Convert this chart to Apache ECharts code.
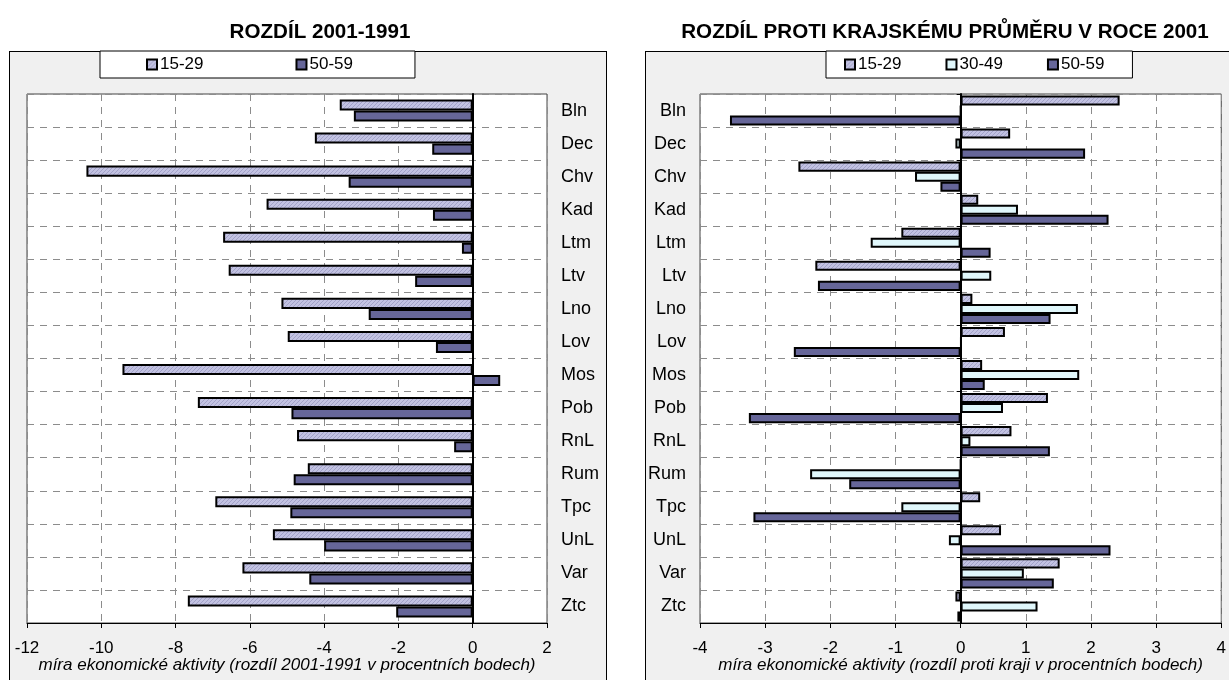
<!DOCTYPE html>
<html>
<head>
<meta charset="utf-8">
<title>Míra ekonomické aktivity</title>
<script src="https://cdn.jsdelivr.net/npm/echarts@6/dist/echarts.min.js"></script>
<style>
html, body { margin: 0; padding: 0; background: #fff; }
#wrap { position: relative; width: 1229px; height: 680px; overflow: hidden; }
.panel { position: absolute; background: #f0f0f0; border: 1px solid #000; box-sizing: border-box; }
#chart { position: absolute; left: 0; top: 0; width: 1229px; height: 680px; }
</style>
</head>
<body>
<div id="wrap">
  <div class="panel" style="left:9px;top:51px;width:598px;height:700px;"></div>
  <div class="panel" style="left:645px;top:51px;width:700px;height:700px;"></div>
  <div id="chart"></div>
</div>
<script>
// okresy, shora dolu
var districts = ['Bln', 'Dec', 'Chv', 'Kad', 'Ltm', 'Ltv', 'Lno', 'Lov', 'Mos', 'Pob', 'RnL', 'Rum', 'Tpc', 'UnL', 'Var', 'Ztc'];

// rozdil 2001-1991 (procentni body)
var diff_15_29 = [-3.58, -4.25, -10.4, -5.55, -6.72, -6.57, -5.15, -4.98, -9.43, -7.4, -4.73, -4.44, -6.93, -5.38, -6.2, -7.67];
var diff_50_59 = [-3.2, -1.09, -3.34, -1.07, -0.29, -1.55, -2.8, -0.99, 0.74, -4.88, -0.5, -4.82, -4.91, -4.0, -4.4, -2.06];

// rozdil proti krajskemu prumeru v roce 2001
var reg_15_29 = [2.44, 0.76, -2.49, 0.27, -0.91, -2.23, 0.18, 0.68, 0.33, 1.34, 0.78, 0.0, 0.3, 0.62, 1.52, -0.08];
var reg_30_49 = [0.0, -0.08, -0.7, 0.88, -1.38, 0.47, 1.8, 0.01, 1.82, 0.65, 0.15, -2.31, -0.91, -0.18, 0.97, 1.18];
var reg_50_59 = [-3.54, 1.91, -0.31, 2.27, 0.46, -2.19, 1.38, -2.56, 0.37, -3.25, 1.37, -1.71, -3.18, 2.3, 1.43, -0.05];

var titles = ['ROZDÍL 2001-1991', 'ROZDÍL PROTI KRAJSKÉMU PRŮMĚRU V ROCE 2001'];
var axisNames = [
  'míra ekonomické aktivity (rozdíl 2001-1991 v procentních bodech)',
  'míra ekonomické aktivity (rozdíl proti kraji v procentních bodech)'
];

var FONT = '"Liberation Sans", Arial, sans-serif';

// srafovana vypln pro 15-29
function hatch() {
  var c = document.createElement('canvas');
  c.width = 4; c.height = 4;
  var g = c.getContext('2d');
  g.fillStyle = '#c2c2e2';
  g.fillRect(0, 0, 4, 4);
  g.fillStyle = '#a2a2c8';
  for (var i = 0; i < 4; i++) g.fillRect(i, 3 - i, 1, 1);
  return c;
}

var colors = {
  '15-29': { image: hatch(), repeat: 'repeat' },
  '30-49': '#e0f7fb',
  '50-59': '#666699'
};

function bar(name, data, gi, gap) {
  return {
    type: 'bar',
    name: name,
    xAxisIndex: gi,
    yAxisIndex: gi * 2,
    data: data,
    barGap: '0%',
    barCategoryGap: gap,
    itemStyle: { color: colors[name], borderColor: '#000', borderWidth: 2 },
    emphasis: { disabled: true }
  };
}

function valueAxis(gi, min, max, interval, name) {
  return {
    gridIndex: gi,
    type: 'value',
    min: min, max: max, interval: interval,
    axisLine: { show: true, onZero: false, lineStyle: { color: '#000', width: 1 } },
    axisTick: { show: true, length: 5, lineStyle: { color: '#000' } },
    axisLabel: { color: '#000', fontSize: 17, margin: 17, fontFamily: FONT },
    splitLine: { show: true, lineStyle: { color: '#8c8c8c', type: [7, 6] } },
    name: name,
    nameLocation: 'middle',
    nameGap: 34,
    nameMoveOverlap: false,
    nameTextStyle: { color: '#000', fontSize: 17, fontStyle: 'italic', fontFamily: FONT }
  };
}

function labelAxis(gi, pos) {
  return {
    gridIndex: gi,
    type: 'category',
    data: districts,
    inverse: true,
    position: pos,
    axisLine: { show: false, onZero: false },
    axisTick: { show: false },
    axisLabel: { color: '#000', fontSize: 18, margin: 14, fontFamily: FONT },
    splitLine: { show: true, lineStyle: { color: '#8c8c8c', type: [7, 6] } }
  };
}

function zeroAxis(gi, ticks) {
  return {
    gridIndex: gi,
    type: 'category',
    data: districts,
    inverse: true,
    position: 'left',
    axisLine: { show: true, onZero: true, onZeroAxisIndex: gi, lineStyle: { color: '#000', width: 2 } },
    axisTick: { show: ticks, length: 4, lineStyle: { color: '#000' } },
    axisLabel: { show: false },
    splitLine: { show: false }
  };
}

function legend(names, left, pad, gap) {
  return {
    data: names,
    left: left,
    top: 51,
    orient: 'horizontal',
    icon: 'rect',
    itemWidth: 10,
    itemHeight: 10,
    itemGap: gap,
    padding: pad,
    backgroundColor: '#fff',
    borderColor: '#000',
    borderWidth: 1,
    selectedMode: false,
    textStyle: { color: '#000', fontSize: 17, fontFamily: FONT, padding: [0, 0, 0, -2] }
  };
}

var chart = echarts.init(document.getElementById('chart'));

chart.setOption({
  animation: false,
  textStyle: { fontFamily: FONT },
  title: [
    { text: titles[0], left: 315, top: 17, textAlign: 'center',
      textStyle: { fontSize: 20.6, fontWeight: 'bold', color: '#000', fontFamily: FONT } },
    { text: titles[1], left: 940, top: 17, textAlign: 'center',
      textStyle: { fontSize: 20.6, fontWeight: 'bold', color: '#000', fontFamily: FONT } }
  ],
  legend: [
    legend(['15-29', '50-59'], 100, [5, 62, 5, 46], 92),
    legend(['15-29', '30-49', '50-59'], 826, [5, 28, 5, 18], 44)
  ],
  grid: [
    { left: 27, top: 94, width: 520, height: 529, show: true, backgroundColor: '#fff', borderColor: '#444', borderWidth: 1 },
    { left: 700, top: 94, width: 528, height: 529, show: true, backgroundColor: '#fff', borderColor: '#444', borderWidth: 1 }
  ],
  xAxis: [
    valueAxis(0, -12, 2, 2, axisNames[0]),
    valueAxis(1, -4, 4, 1, axisNames[1])
  ],
  yAxis: [
    labelAxis(0, 'right'),
    zeroAxis(0, false),
    labelAxis(1, 'left'),
    zeroAxis(1, true)
  ],
  series: [
    bar('15-29', diff_15_29, 0, '33%'),
    bar('50-59', diff_50_59, 0, '33%'),
    bar('15-29', reg_15_29, 1, '9%'),
    bar('30-49', reg_30_49, 1, '9%'),
    bar('50-59', reg_50_59, 1, '9%')
  ]
});
</script>
</body>
</html>
